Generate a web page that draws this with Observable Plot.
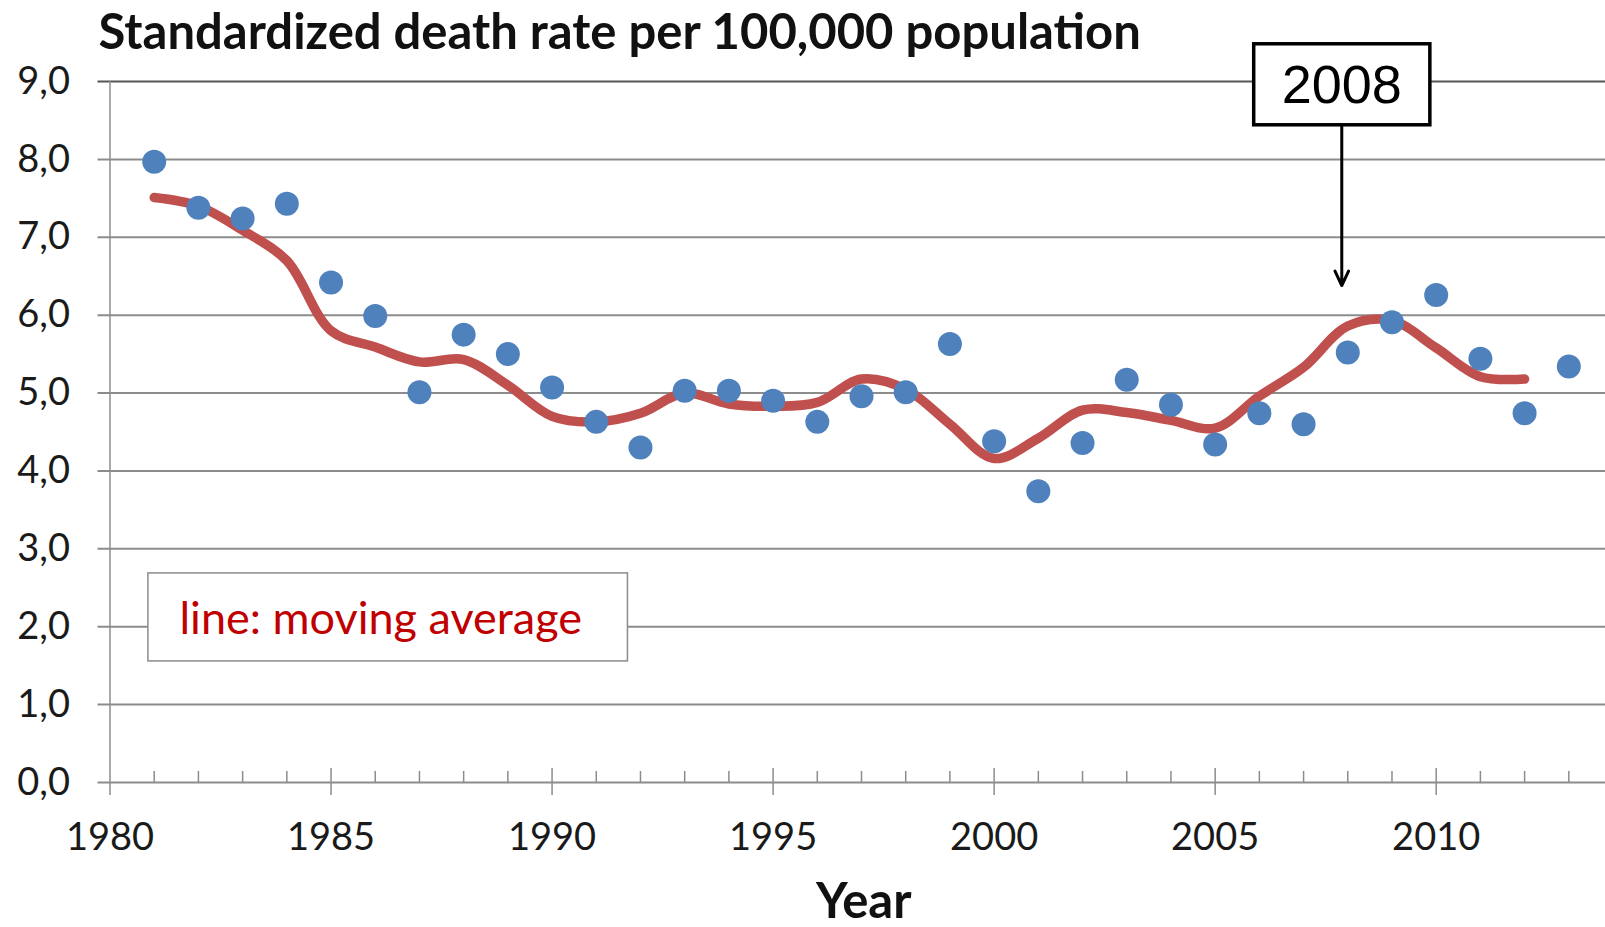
<!DOCTYPE html>
<html><head><meta charset="utf-8">
<script src="https://cdn.jsdelivr.net/npm/d3@7"></script>
<script src="https://cdn.jsdelivr.net/npm/@observablehq/plot@0.6"></script>
<style>body{margin:0;background:#fff;overflow:hidden}</style>
</head><body><div id="chart"></div>
<script>
// ---- data ----
const years = [1981,1982,1983,1984,1985,1986,1987,1988,1989,1990,1991,1992,1993,1994,1995,1996,1997,1998,1999,2000,2001,2002,2003,2004,2005,2006,2007,2008,2009,2010,2011,2012,2013];
const rate = [7.97,7.38,7.24,7.43,6.42,5.99,5.01,5.75,5.50,5.07,4.63,4.30,5.03,5.03,4.90,4.63,4.96,5.01,5.63,4.38,3.74,4.36,5.17,4.85,4.34,4.74,4.60,5.52,5.91,6.26,5.44,4.74,5.34];
const avgYears = [1981,1982,1983,1984,1985,1986,1987,1988,1989,1990,1991,1992,1993,1994,1995,1996,1997,1998,1999,2000,2001,2002,2003,2004,2005,2006,2007,2008,2009,2010,2011,2012];
const movingAvg = [7.51,7.40,7.09,6.70,5.80,5.59,5.40,5.43,5.10,4.70,4.63,4.74,5.00,4.86,4.83,4.88,5.18,5.05,4.60,4.16,4.42,4.78,4.75,4.65,4.55,4.96,5.33,5.86,5.93,5.58,5.21,5.18];
const yTicks = [0,1,2,3,4,5,6,7,8,9];
const xLabelTicks = [1980,1985,1990,1995,2000,2005,2010];
const minorYears = [1981,1982,1983,1984,1986,1987,1988,1989,1991,1992,1993,1994,1996,1997,1998,1999,2001,2002,2003,2004,2006,2007,2008,2009,2011,2012,2013];
const majorYears = [1985,1990,1995,2000,2005,2010];
const titleText = "Standardized death rate per 100,000 population";
const xTitle = "Year";
const legendText = "line: moving average";
const annotation = [{year: 2008, label: "2008", from: 8.43, to: 6.38}];

const points = years.map((y, i) => ({year: y, value: rate[i]}));
const avgLine = avgYears.map((y, i) => ({year: y, value: movingAvg[i]}));

const grid = "#8c8c8c";
const font = "Lato, 'Open Sans', sans-serif";

const plot = Plot.plot({
  width: 1605, height: 927,
  marginLeft: 109.5, marginTop: 81, marginBottom: 145, marginRight: 0,
  x: {domain: [1980, 2013.83]},
  y: {domain: [0, 9]},
  style: {fontFamily: font, background: "white", overflow: "visible"},
  marks: [
    Plot.ruleY(yTicks.filter(v => v < 9), {insetLeft: -12, stroke: grid, strokeWidth: 2}),
    Plot.ruleY([9], {insetLeft: -12, stroke: "#555", strokeWidth: 2}),
    Plot.ruleX([1980], {y1: 9, y2: 0, insetBottom: -13, stroke: grid, strokeWidth: 1.5}),
    Plot.ruleX(minorYears, {y1: 0, y2: 0, insetBottom: 11, stroke: grid, strokeWidth: 1.5}),
    Plot.ruleX(majorYears, {y1: 0, y2: 0, insetTop: 13, insetBottom: 14, stroke: grid, strokeWidth: 1.5}),
    Plot.axisY({ticks: yTicks, tickSize: 0, tickPadding: 40, tickFormat: d => d.toFixed(1).replace(".", ","), fontSize: 38, fill: "#1a1a1a", label: null}),
    Plot.axisX({ticks: xLabelTicks, tickSize: 0, tickPadding: 41, tickFormat: d => String(d), fontSize: 38, fill: "#1a1a1a", label: null}),
    Plot.line(avgLine, {x: "year", y: "value", stroke: "#C0504D", strokeWidth: 9.5, curve: "catmull-rom", strokeLinecap: "round", strokeLinejoin: "round"}),
    Plot.dot(points, {x: "year", y: "value", r: 12, fill: "#4F81BD", stroke: "none"}),
    Plot.arrow(annotation, {x: "year", y1: "from", y2: "to", dx: -6, stroke: "black", strokeWidth: 3, headLength: 8, headAngle: 50}),
    Plot.text(annotation, {x: "year", text: "label", frameAnchor: "top", dx: -6, dy: 4.5, lineAnchor: "middle", fontSize: 54, fontFamily: "'Liberation Sans', Arial, sans-serif", fill: "black"}),
    Plot.text([legendText], {frameAnchor: "top-left", dx: 69.5, dy: 538, textAnchor: "start", lineAnchor: "middle", fontSize: 45, fill: "#C00000"}),
    Plot.text([titleText], {frameAnchor: "top-left", dx: -11.5, dy: -33, textAnchor: "start", lineAnchor: "bottom", fontSize: 49, fontWeight: "bold", fill: "#111"}),
    Plot.text([xTitle], {frameAnchor: "bottom", dx: 6, dy: 135, lineAnchor: "bottom", fontSize: 49, fontWeight: "bold", fill: "#111"})
  ]
});
document.getElementById("chart").appendChild(plot);

// boxes behind the annotation and legend texts, sized from their text
function boxBehind(content, padL, padR, h, strokeColor, strokeW) {
  const t = Array.from(plot.querySelectorAll("text")).find(e => e.textContent === content);
  if (!t) return;
  const bb = t.getBBox();
  const cy = bb.y + bb.height / 2;
  const r = document.createElementNS("http://www.w3.org/2000/svg", "rect");
  if (t.getAttribute("transform")) r.setAttribute("transform", t.getAttribute("transform"));
  r.setAttribute("x", bb.x - padL);
  r.setAttribute("y", cy - h / 2);
  r.setAttribute("width", bb.width + padL + padR);
  r.setAttribute("height", h);
  r.setAttribute("fill", "white");
  r.setAttribute("stroke", strokeColor);
  r.setAttribute("stroke-width", strokeW);
  t.parentNode.insertBefore(r, t);
}
boxBehind(annotation[0].label, 28, 28, 81, "black", 3.5);
boxBehind(legendText, 31.6, 45.5, 88, "#8c8c8c", 1.5);
</script>
</body></html>
